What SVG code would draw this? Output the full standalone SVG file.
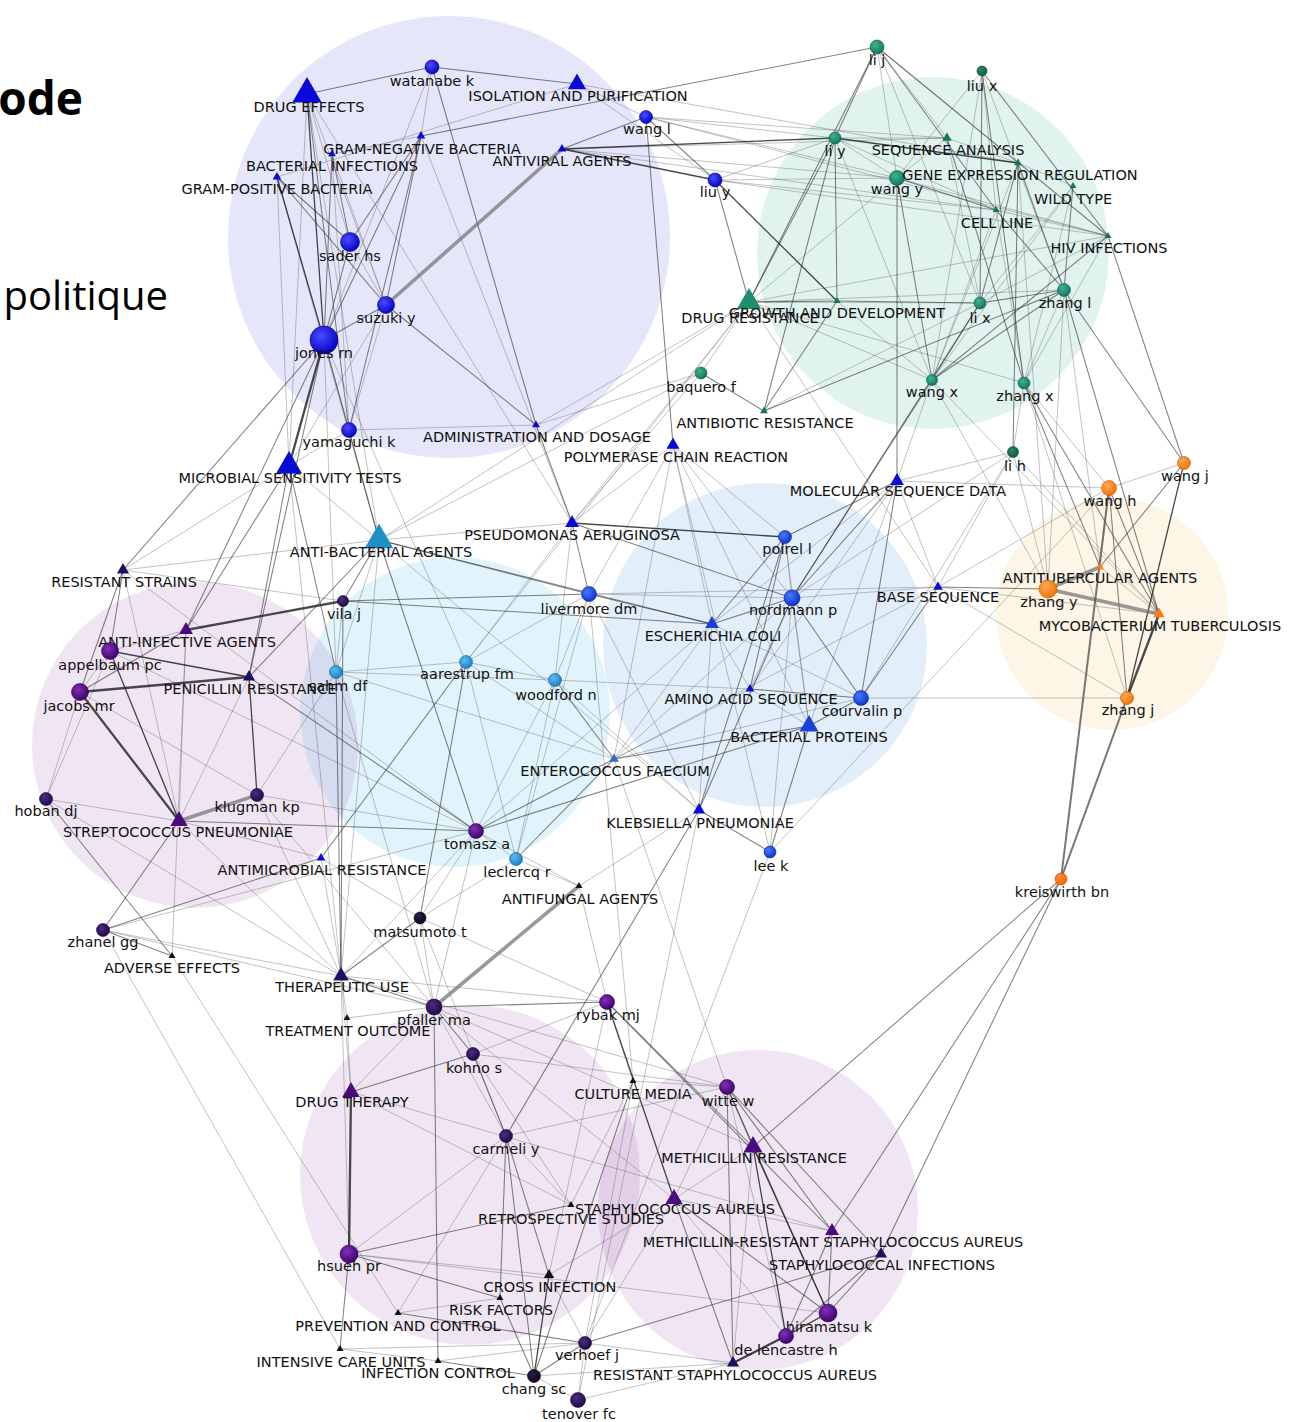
<svg xmlns="http://www.w3.org/2000/svg" width="1296" height="1422" viewBox="0 0 1296 1422">
<defs>
<radialGradient id="gB" cx="0.38" cy="0.35" r="0.7"><stop offset="0" stop-color="#4b4bff"/><stop offset="1" stop-color="#0000c2"/></radialGradient>
<radialGradient id="gB2" cx="0.38" cy="0.35" r="0.7"><stop offset="0" stop-color="#4a78ff"/><stop offset="1" stop-color="#0a2ed0"/></radialGradient>
<radialGradient id="gC" cx="0.38" cy="0.35" r="0.7"><stop offset="0" stop-color="#5cbcf0"/><stop offset="1" stop-color="#1a7cc4"/></radialGradient>
<radialGradient id="gT" cx="0.38" cy="0.35" r="0.7"><stop offset="0" stop-color="#3fb292"/><stop offset="1" stop-color="#0e765a"/></radialGradient>
<radialGradient id="gTd" cx="0.38" cy="0.35" r="0.7"><stop offset="0" stop-color="#2c8a64"/><stop offset="1" stop-color="#0a5a3c"/></radialGradient>
<radialGradient id="gO" cx="0.38" cy="0.35" r="0.7"><stop offset="0" stop-color="#ffab55"/><stop offset="1" stop-color="#f07000"/></radialGradient>
<radialGradient id="gO2" cx="0.38" cy="0.35" r="0.7"><stop offset="0" stop-color="#ff9040"/><stop offset="1" stop-color="#ff5e00"/></radialGradient>
<radialGradient id="gP" cx="0.38" cy="0.35" r="0.7"><stop offset="0" stop-color="#8030b4"/><stop offset="1" stop-color="#3c006c"/></radialGradient>
<radialGradient id="gPd" cx="0.38" cy="0.35" r="0.7"><stop offset="0" stop-color="#4e2c80"/><stop offset="1" stop-color="#1c0846"/></radialGradient>
<radialGradient id="gK" cx="0.38" cy="0.35" r="0.7"><stop offset="0" stop-color="#2e1c46"/><stop offset="1" stop-color="#0a0518"/></radialGradient>
<path id="tri" d="M0,-1L0.866,0.5L-0.866,0.5Z"/>
</defs>
<style>
.hlB{fill:#3a40d8;fill-opacity:.13}
.hlT{fill:#20a890;fill-opacity:.14}
.hlR{fill:#3a8ae0;fill-opacity:.15}
.hlC{fill:#30b0e0;fill-opacity:.14}
.hlO{fill:#f0b040;fill-opacity:.13}
.hlP{fill:#8a3aa0;fill-opacity:.13}
#edges path{fill:none}
.e1 path{stroke:#1a1a1a;stroke-opacity:.8;stroke-width:1.3}
.e2 path{stroke:#333;stroke-opacity:.62;stroke-width:1.05}
.e3 path{stroke:#555;stroke-opacity:.42;stroke-width:.85}
.e4 path{stroke:#777;stroke-opacity:.75;stroke-width:3.6}
.e5 path{stroke:#222;stroke-opacity:.82;stroke-width:2.3}
.e6 path{stroke:#555;stroke-opacity:.8;stroke-width:2}
text{font-family:"DejaVu Sans",Verdana,sans-serif;font-size:14.5px;fill:#111;text-anchor:middle}
text.hd{font-family:"Open Sans","Liberation Sans",sans-serif;fill:#000;text-anchor:end}
text.h1{font-size:46px;font-weight:bold}
text.h2{font-size:40px}
circle{stroke-width:.6}
.tB{fill:#0a0ad8}.tB2{fill:#1a40d8}.tT{fill:#1a9070}.tT2{fill:#0f7a55}.tO{fill:#ff7a10}
.tP{fill:#4a0a80}.tN{fill:#1e1060}.tK{fill:#111}
</style>

<!-- cluster halos -->
<g id="halos">
<circle class="hlB" cx="449" cy="237" r="221"/>
<circle class="hlT" cx="933" cy="253" r="176"/>
<circle class="hlR" cx="765" cy="645" r="162"/>
<circle class="hlC" cx="455" cy="712" r="155"/>
<circle class="hlO" cx="1112" cy="614" r="116"/>
<circle class="hlP" cx="195" cy="745" r="163"/>
<circle class="hlP" cx="470" cy="1175" r="170"/>
<circle class="hlP" cx="758" cy="1210" r="160"/>
</g>

<!-- slide title fragments -->
<text class="hd h1" x="83" y="115">ode</text>
<text class="hd h2" x="168" y="310">politique</text>

<g id="edges">
<g class="e3">
<path d="M432 67L421 136"/><path d="M432 67L324 340"/><path d="M307 94L350 242"/><path d="M307 94L386 305"/>
<path d="M307 94L289 466"/><path d="M307 94L379 540"/><path d="M277 177L289 466"/><path d="M277 177L379 540"/>
<path d="M277 177L577 84"/><path d="M332 154L386 305"/><path d="M332 154L349 430"/><path d="M421 136L332 154"/>
<path d="M350 242L386 305"/><path d="M324 340L379 540"/><path d="M386 305L349 430"/><path d="M386 305L289 466"/>
<path d="M349 430L289 466"/><path d="M349 430L536 425"/><path d="M562 149L897 178"/><path d="M562 149L947 138"/>
<path d="M562 149L996 210"/><path d="M577 84L646 117"/><path d="M577 84L715 180"/><path d="M577 84L1018 163"/>
<path d="M646 117L835 138"/><path d="M646 117L897 178"/><path d="M646 117L947 138"/><path d="M646 117L1108 236"/>
<path d="M715 180L835 138"/><path d="M715 180L897 178"/><path d="M715 180L996 210"/><path d="M715 180L1108 236"/>
<path d="M877 47L947 138"/><path d="M877 47L1018 163"/><path d="M877 47L897 178"/><path d="M877 47L980 303"/>
<path d="M982 71L996 210"/><path d="M982 71L897 178"/><path d="M982 71L1064 290"/><path d="M982 71L932 380"/>
<path d="M835 138L897 178"/><path d="M835 138L947 138"/><path d="M835 138L932 380"/><path d="M835 138L996 210"/>
<path d="M897 178L947 138"/><path d="M897 178L749 302"/><path d="M897 178L1108 236"/><path d="M947 138L980 303"/>
<path d="M947 138L1018 163"/><path d="M1018 163L932 380"/><path d="M1018 163L1048 589"/><path d="M1018 163L1073 186"/>
<path d="M1073 186L980 303"/><path d="M1073 186L932 380"/><path d="M1073 186L1024 383"/><path d="M996 210L932 380"/>
<path d="M996 210L1024 383"/><path d="M996 210L1108 236"/><path d="M1108 236L980 303"/><path d="M1108 236L1024 383"/>
<path d="M1108 236L749 302"/><path d="M1064 290L749 302"/><path d="M1064 290L1100 567"/><path d="M1064 290L1024 383"/>
<path d="M1064 290L1048 589"/><path d="M980 303L749 302"/><path d="M932 380L837 301"/><path d="M932 380L897 481"/>
<path d="M932 380L1048 589"/><path d="M932 380L1159 614"/><path d="M932 380L749 302"/><path d="M1024 383L1109 488"/>
<path d="M1024 383L1013 452"/><path d="M1024 383L1127 698"/><path d="M1024 383L749 302"/><path d="M701 373L749 302"/>
<path d="M701 373L572 523"/><path d="M701 373L536 425"/><path d="M701 373L379 540"/><path d="M764 411L980 303"/>
<path d="M749 302L536 425"/><path d="M749 302L572 523"/><path d="M749 302L466 662"/><path d="M749 302L379 540"/>
<path d="M749 302L938 587"/><path d="M673 445L572 523"/><path d="M673 445L589 594"/><path d="M673 445L785 537"/>
<path d="M673 445L792 598"/><path d="M673 445L712 624"/><path d="M673 445L614 759"/><path d="M673 445L770 852"/>
<path d="M673 445L809 726"/><path d="M572 523L379 540"/><path d="M572 523L421 136"/><path d="M572 523L307 94"/>
<path d="M572 523L555 680"/><path d="M572 523L466 662"/><path d="M589 594L466 662"/><path d="M589 594L555 680"/>
<path d="M589 594L792 598"/><path d="M589 594L516 859"/><path d="M712 624L861 698"/><path d="M712 624L476 831"/>
<path d="M712 624L614 759"/><path d="M712 624L699 810"/><path d="M785 537L792 598"/><path d="M785 537L809 726"/>
<path d="M792 598L938 587"/><path d="M792 598L750 689"/><path d="M792 598L809 726"/><path d="M792 598L614 759"/>
<path d="M792 598L770 852"/><path d="M897 481L938 587"/><path d="M897 481L1109 488"/><path d="M897 481L809 726"/>
<path d="M897 481L750 689"/><path d="M897 481L712 624"/><path d="M938 587L1127 698"/><path d="M938 587L1013 452"/>
<path d="M938 587L1159 614"/><path d="M938 587L589 594"/><path d="M938 587L1109 488"/><path d="M938 587L614 759"/>
<path d="M750 689L809 726"/><path d="M750 689L614 759"/><path d="M750 689L555 680"/><path d="M750 689L712 624"/>
<path d="M861 698L1127 698"/><path d="M861 698L614 759"/><path d="M861 698L1013 452"/><path d="M699 810L555 680"/>
<path d="M699 810L578 1400"/><path d="M699 810L589 594"/><path d="M699 810L579 886"/><path d="M770 852L585 1343"/>
<path d="M770 852L1109 488"/><path d="M614 759L466 662"/><path d="M614 759L727 1087"/><path d="M614 759L336 672"/>
<path d="M516 859L466 662"/><path d="M516 859L476 831"/><path d="M516 859L555 680"/><path d="M516 859L420 918"/>
<path d="M555 680L466 662"/><path d="M555 680L476 831"/><path d="M555 680L336 672"/><path d="M466 662L336 672"/>
<path d="M466 662L324 340"/><path d="M336 672L379 540"/><path d="M336 672L324 340"/><path d="M336 672L434 1007"/>
<path d="M379 540L699 810"/><path d="M379 540L123 570"/><path d="M379 540L289 466"/><path d="M379 540L341 976"/>
<path d="M289 466L123 570"/><path d="M289 466L341 976"/><path d="M123 570L343 601"/><path d="M123 570L179 821"/>
<path d="M123 570L476 831"/><path d="M186 630L110 651"/><path d="M186 630L179 821"/><path d="M186 630L172 956"/>
<path d="M343 601L336 672"/><path d="M110 651L80 692"/><path d="M110 651L46 799"/><path d="M110 651L476 831"/>
<path d="M80 692L46 799"/><path d="M80 692L257 795"/><path d="M249 677L179 821"/><path d="M46 799L179 821"/>
<path d="M46 799L341 976"/><path d="M257 795L476 831"/><path d="M257 795L336 672"/><path d="M257 795L434 1007"/>
<path d="M257 795L341 976"/><path d="M179 821L321 858"/><path d="M179 821L341 976"/><path d="M103 930L341 976"/>
<path d="M103 930L476 831"/><path d="M103 930L340 1349"/><path d="M103 930L434 1007"/><path d="M172 956L398 1313"/>
<path d="M321 858L341 976"/><path d="M321 858L420 918"/><path d="M476 831L420 918"/><path d="M476 831L341 976"/>
<path d="M476 831L434 1007"/><path d="M476 831L579 886"/><path d="M420 918L434 1007"/><path d="M420 918L607 1002"/>
<path d="M420 918L506 1136"/><path d="M579 886L516 859"/><path d="M579 886L607 1002"/><path d="M341 976L607 1002"/>
<path d="M341 976L347 1018"/><path d="M341 976L351 1092"/><path d="M341 976L349 1254"/><path d="M341 976L727 1087"/>
<path d="M434 1007L347 1018"/><path d="M434 1007L351 1092"/><path d="M434 1007L506 1136"/><path d="M434 1007L753 1147"/>
<path d="M434 1007L674 1199"/><path d="M473 1054L607 1002"/><path d="M473 1054L571 1205"/><path d="M473 1054L727 1087"/>
<path d="M607 1002L549 1275"/><path d="M607 1002L633 1081"/><path d="M351 1092L347 1018"/><path d="M351 1092L571 1205"/>
<path d="M351 1092L832 1231"/><path d="M633 1081L727 1087"/><path d="M633 1081L585 1343"/><path d="M633 1081L589 594"/>
<path d="M633 1081L571 1205"/><path d="M727 1087L786 1336"/><path d="M727 1087L506 1136"/><path d="M727 1087L674 1199"/>
<path d="M506 1136L571 1205"/><path d="M506 1136L349 1254"/><path d="M753 1147L674 1199"/><path d="M753 1147L733 1363"/>
<path d="M674 1199L832 1231"/><path d="M674 1199L786 1336"/><path d="M674 1199L585 1343"/><path d="M674 1199L549 1275"/>
<path d="M349 1254L549 1275"/><path d="M349 1254L828 1313"/><path d="M549 1275L585 1343"/><path d="M500 1298L398 1313"/>
<path d="M398 1313L506 1136"/><path d="M340 1349L438 1361"/><path d="M340 1349L585 1343"/><path d="M438 1361L585 1343"/>
<path d="M534 1376L578 1400"/><path d="M534 1376L733 1363"/><path d="M585 1343L578 1400"/><path d="M585 1343L733 1363"/>
<path d="M733 1363L828 1313"/><path d="M578 1400L733 1363"/><path d="M1184 463L1109 488"/><path d="M1109 488L1100 567"/>
<path d="M1100 567L1159 614"/><path d="M1048 589L1013 452"/><path d="M1159 614L1013 452"/><path d="M1013 452L897 481"/>
<path d="M1013 452L792 598"/>
</g>
<g class="e2">
<path d="M307 94L432 67"/><path d="M432 67L577 84"/><path d="M432 67L536 425"/><path d="M421 136L877 47"/>
<path d="M307 94L349 430"/><path d="M277 177L350 242"/><path d="M277 177L386 305"/><path d="M332 154L324 340"/>
<path d="M332 154L350 242"/><path d="M421 136L324 340"/><path d="M421 136L350 242"/><path d="M421 136L386 305"/>
<path d="M421 136L349 430"/><path d="M350 242L324 340"/><path d="M386 305L324 340"/><path d="M324 340L349 430"/>
<path d="M324 340L123 570"/><path d="M324 340L186 630"/><path d="M324 340L249 677"/><path d="M386 305L536 425"/>
<path d="M349 430L379 540"/><path d="M562 149L646 117"/><path d="M646 117L715 180"/><path d="M646 117L673 445"/>
<path d="M715 180L749 302"/><path d="M877 47L835 138"/><path d="M877 47L749 302"/><path d="M877 47L996 210"/>
<path d="M877 47L1108 236"/><path d="M982 71L980 303"/><path d="M982 71L1024 383"/><path d="M982 71L1108 236"/>
<path d="M835 138L749 302"/><path d="M835 138L837 301"/><path d="M835 138L764 411"/><path d="M897 178L932 380"/>
<path d="M897 178L897 481"/><path d="M897 178L996 210"/><path d="M947 138L1024 383"/><path d="M1018 163L980 303"/>
<path d="M1018 163L1064 290"/><path d="M1018 163L1013 452"/><path d="M1073 186L1064 290"/><path d="M996 210L1064 290"/>
<path d="M1108 236L1184 463"/><path d="M1108 236L932 380"/><path d="M1064 290L980 303"/><path d="M1064 290L932 380"/>
<path d="M1064 290L1159 614"/><path d="M1064 290L1184 463"/><path d="M980 303L837 301"/><path d="M980 303L932 380"/>
<path d="M1024 383L1100 567"/><path d="M701 373L764 411"/><path d="M764 411L1064 290"/><path d="M749 302L837 301"/>
<path d="M837 301L764 411"/><path d="M572 523L792 598"/><path d="M572 523L589 594"/><path d="M572 523L536 425"/>
<path d="M589 594L712 624"/><path d="M589 594L379 540"/><path d="M712 624L792 598"/><path d="M712 624L785 537"/>
<path d="M712 624L379 540"/><path d="M785 537L897 481"/><path d="M785 537L750 689"/><path d="M785 537L699 810"/>
<path d="M792 598L897 481"/><path d="M792 598L861 698"/><path d="M792 598L980 303"/><path d="M792 598L932 380"/>
<path d="M897 481L861 698"/><path d="M938 587L1048 589"/><path d="M938 587L861 698"/><path d="M750 689L861 698"/>
<path d="M861 698L809 726"/><path d="M809 726L614 759"/><path d="M809 726L476 831"/><path d="M809 726L770 852"/>
<path d="M699 810L770 852"/><path d="M699 810L792 598"/><path d="M699 810L506 1136"/><path d="M614 759L476 831"/>
<path d="M614 759L516 859"/><path d="M614 759L555 680"/><path d="M466 662L420 918"/><path d="M466 662L321 858"/>
<path d="M336 672L341 976"/><path d="M379 540L249 677"/><path d="M379 540L476 831"/><path d="M379 540L343 601"/>
<path d="M289 466L186 630"/><path d="M289 466L336 672"/><path d="M289 466L249 677"/><path d="M123 570L110 651"/>
<path d="M123 570L80 692"/><path d="M186 630L80 692"/><path d="M343 601L589 594"/><path d="M343 601L712 624"/>
<path d="M343 601L341 976"/><path d="M249 677L476 831"/><path d="M46 799L172 956"/><path d="M179 821L103 930"/>
<path d="M179 821L476 831"/><path d="M103 930L321 858"/><path d="M103 930L172 956"/><path d="M420 918L341 976"/>
<path d="M341 976L434 1007"/><path d="M434 1007L473 1054"/><path d="M434 1007L607 1002"/><path d="M434 1007L438 1361"/>
<path d="M473 1054L506 1136"/><path d="M473 1054L351 1092"/><path d="M607 1002L753 1147"/><path d="M607 1002L832 1231"/>
<path d="M633 1081L534 1376"/><path d="M727 1087L753 1147"/><path d="M727 1087L832 1231"/><path d="M727 1087L881 1254"/>
<path d="M727 1087L733 1363"/><path d="M727 1087L828 1313"/><path d="M506 1136L549 1275"/><path d="M506 1136L500 1298"/>
<path d="M506 1136L534 1376"/><path d="M753 1147L1061 879"/><path d="M674 1199L828 1313"/><path d="M674 1199L733 1363"/>
<path d="M832 1231L1061 879"/><path d="M832 1231L828 1313"/><path d="M832 1231L786 1336"/><path d="M881 1254L1061 879"/>
<path d="M881 1254L828 1313"/><path d="M881 1254L786 1336"/><path d="M881 1254L585 1343"/><path d="M349 1254L571 1205"/>
<path d="M349 1254L500 1298"/><path d="M349 1254L340 1349"/><path d="M534 1376L585 1343"/><path d="M500 1298L534 1376"/>
<path d="M398 1313L585 1343"/><path d="M438 1361L534 1376"/><path d="M1184 463L1100 567"/><path d="M1109 488L1159 614"/>
<path d="M1109 488L1127 698"/><path d="M1159 614L1024 383"/>
</g>
<g class="e1">
<path d="M307 94L324 340"/><path d="M277 177L324 340"/><path d="M562 149L715 180"/><path d="M562 149L835 138"/>
<path d="M715 180L837 301"/><path d="M835 138L1018 163"/><path d="M572 523L785 537"/><path d="M110 651L249 677"/>
<path d="M110 651L179 821"/><path d="M249 677L257 795"/><path d="M607 1002L674 1199"/><path d="M753 1147L828 1313"/>
<path d="M753 1147L786 1336"/><path d="M549 1275L534 1376"/><path d="M786 1336L828 1313"/><path d="M1184 463L1127 698"/>
</g>
<g class="e5">
<path d="M324 340L289 466"/><path d="M186 630L343 601"/><path d="M80 692L249 677"/><path d="M80 692L179 821"/>
<path d="M1159 614L1127 698"/><path d="M786 1336L733 1363"/><path d="M351 1092L349 1254"/>
</g>
<g class="e4">
<path d="M386 305L562 149"/><path d="M434 1007L579 886"/><path d="M1048 589L1159 614"/><path d="M257 795L179 821"/>
<path d="M1100 567L1048 589"/>
</g>
<g class="e6">
<path d="M1127 698L1061 879"/><path d="M1109 488L1061 879"/>
</g>
</g>

<g id="nodes">
<!-- blue cluster -->
<g id="n-watanabe-k"><circle cx="432" cy="67" r="7" fill="url(#gB)" stroke="#00008a"/><text x="432" y="86">watanabe k</text></g>
<g id="n-drug-effects"><use href="#tri" class="tB" transform="translate(307 94) scale(17)"/><text x="309" y="112">DRUG EFFECTS</text></g>
<g id="n-isolation"><use href="#tri" class="tB" transform="translate(577 84) scale(10.5)"/><text x="578" y="101">ISOLATION AND PURIFICATION</text></g>
<g id="n-wang-l"><circle cx="646" cy="117" r="6.5" fill="url(#gB)" stroke="#00008a"/><text x="647" y="134">wang l</text></g>
<g id="n-gram-negative"><use href="#tri" class="tB" transform="translate(421 136) scale(5)"/><text x="422" y="154">GRAM-NEGATIVE BACTERIA</text></g>
<g id="n-bacterial-infections"><use href="#tri" class="tB" transform="translate(332 154) scale(4.5)"/><text x="332" y="171">BACTERIAL INFECTIONS</text></g>
<g id="n-gram-positive"><use href="#tri" class="tB" transform="translate(277 177) scale(5)"/><text x="277" y="194">GRAM-POSITIVE BACTERIA</text></g>
<g id="n-antiviral"><use href="#tri" class="tB" transform="translate(562 149) scale(5)"/><text x="562" y="166">ANTIVIRAL AGENTS</text></g>
<g id="n-liu-y"><circle cx="715" cy="180" r="7" fill="url(#gB)" stroke="#00008a"/><text x="715" y="197">liu y</text></g>
<g id="n-sader-hs"><circle cx="350" cy="242" r="9.5" fill="url(#gB)" stroke="#00008a"/><text x="350" y="261">sader hs</text></g>
<g id="n-suzuki-y"><circle cx="386" cy="305" r="8.5" fill="url(#gB)" stroke="#00008a"/><text x="386" y="323">suzuki y</text></g>
<g id="n-jones-rn"><circle cx="324" cy="340" r="14" fill="url(#gB)" stroke="#00008a"/><text x="324" y="358">jones rn</text></g>
<g id="n-yamaguchi-k"><circle cx="349" cy="430" r="7.5" fill="url(#gB)" stroke="#00008a"/><text x="349" y="447">yamaguchi k</text></g>
<g id="n-microbial-sensitivity"><use href="#tri" class="tB" transform="translate(289 466) scale(15)"/><text x="290" y="483">MICROBIAL SENSITIVITY TESTS</text></g>
<g id="n-administration"><use href="#tri" class="tB" transform="translate(536 425) scale(4.5)"/><text x="537" y="442">ADMINISTRATION AND DOSAGE</text></g>
<g id="n-pcr"><use href="#tri" class="tB" transform="translate(673 445) scale(7.5)"/><text x="676" y="462">POLYMERASE CHAIN REACTION</text></g>
<g id="n-pseudomonas"><use href="#tri" class="tB" transform="translate(572 523) scale(8)"/><text x="572" y="540">PSEUDOMONAS AERUGINOSA</text></g>
<g id="n-livermore-dm"><circle cx="589" cy="594" r="7.5" fill="url(#gB2)" stroke="#0a208a"/><text x="589" y="614">livermore dm</text></g>
<g id="n-poirel-l"><circle cx="785" cy="537" r="6.5" fill="url(#gB2)" stroke="#0a208a"/><text x="787" y="554">poirel l</text></g>
<g id="n-nordmann-p"><circle cx="792" cy="598" r="8" fill="url(#gB2)" stroke="#0a208a"/><text x="793" y="615">nordmann p</text></g>
<g id="n-escherichia"><use href="#tri" class="tB2" transform="translate(712 624) scale(8)"/><text x="713" y="641">ESCHERICHIA COLI</text></g>
<g id="n-molecular-sequence"><use href="#tri" class="tB" transform="translate(897 481) scale(8)"/><text x="898" y="496">MOLECULAR SEQUENCE DATA</text></g>
<g id="n-base-sequence"><use href="#tri" class="tB" transform="translate(938 587) scale(5.5)"/><text x="938" y="602">BASE SEQUENCE</text></g>
<g id="n-amino-acid"><use href="#tri" class="tB" transform="translate(750 689) scale(5)"/><text x="751" y="704">AMINO ACID SEQUENCE</text></g>
<g id="n-courvalin-p"><circle cx="861" cy="698" r="7.5" fill="url(#gB2)" stroke="#0a208a"/><text x="862" y="716">courvalin p</text></g>
<g id="n-bacterial-proteins"><use href="#tri" class="tB2" transform="translate(809 726) scale(11)"/><text x="809" y="742">BACTERIAL PROTEINS</text></g>
<g id="n-klebsiella"><use href="#tri" class="tB" transform="translate(699 810) scale(7)"/><text x="700" y="828">KLEBSIELLA PNEUMONIAE</text></g>
<g id="n-lee-k"><circle cx="770" cy="852" r="6" fill="url(#gB2)" stroke="#0a208a"/><text x="771" y="871">lee k</text></g>
<g id="n-antimicrobial-resistance"><use href="#tri" class="tB" transform="translate(321 858) scale(5)"/><text x="322" y="875">ANTIMICROBIAL RESISTANCE</text></g>

<!-- light blue cluster -->
<g id="n-anti-bacterial"><use href="#tri" fill="#1e90c8" transform="translate(379 540) scale(16.5)"/><text x="381" y="557">ANTI-BACTERIAL AGENTS</text></g>
<g id="n-sahm-df"><circle cx="336" cy="672" r="6.5" fill="url(#gC)" stroke="#12609a"/><text x="338" y="691">sahm df</text></g>
<g id="n-aarestrup-fm"><circle cx="466" cy="662" r="6.5" fill="url(#gC)" stroke="#12609a"/><text x="467" y="679">aarestrup fm</text></g>
<g id="n-woodford-n"><circle cx="555" cy="680" r="6.5" fill="url(#gC)" stroke="#12609a"/><text x="556" y="700">woodford n</text></g>
<g id="n-enterococcus"><use href="#tri" fill="#2a6ec8" transform="translate(614 759) scale(5.5)"/><text x="615" y="776">ENTEROCOCCUS FAECIUM</text></g>
<g id="n-leclercq-r"><circle cx="516" cy="859" r="6.5" fill="url(#gC)" stroke="#12609a"/><text x="517" y="877">leclercq r</text></g>

<!-- teal cluster -->
<g id="n-li-j"><circle cx="877" cy="47" r="7" fill="url(#gT)" stroke="#0a5a44"/><text x="877" y="65">li j</text></g>
<g id="n-liu-x"><circle cx="982" cy="71" r="5" fill="url(#gTd)" stroke="#08482e"/><text x="982" y="91">liu x</text></g>
<g id="n-li-y"><circle cx="835" cy="138" r="6" fill="url(#gT)" stroke="#0a5a44"/><text x="835" y="156">li y</text></g>
<g id="n-sequence-analysis"><use href="#tri" class="tT2" transform="translate(947 138) scale(5.5)"/><text x="948" y="155">SEQUENCE ANALYSIS</text></g>
<g id="n-wang-y"><circle cx="897" cy="178" r="7.5" fill="url(#gT)" stroke="#0a5a44"/><text x="897" y="194">wang y</text></g>
<g id="n-gene-expression"><use href="#tri" class="tT2" transform="translate(1018 163) scale(4.5)"/><text x="1020" y="180">GENE EXPRESSION REGULATION</text></g>
<g id="n-wild-type"><use href="#tri" class="tT2" transform="translate(1073 186) scale(4)"/><text x="1073" y="204">WILD TYPE</text></g>
<g id="n-cell-line"><use href="#tri" class="tT2" transform="translate(996 210) scale(4)"/><text x="997" y="228">CELL LINE</text></g>
<g id="n-hiv-infections"><use href="#tri" class="tT2" transform="translate(1108 236) scale(4)"/><text x="1109" y="253">HIV INFECTIONS</text></g>
<g id="n-drug-resistance"><use href="#tri" class="tT" transform="translate(749 302) scale(14)"/><text x="750" y="323">DRUG RESISTANCE</text></g>
<g id="n-growth-development"><use href="#tri" class="tT2" transform="translate(837 301) scale(4)"/><text x="837" y="318">GROWTH AND DEVELOPMENT</text></g>
<g id="n-li-x"><circle cx="980" cy="303" r="6" fill="url(#gT)" stroke="#0a5a44"/><text x="980" y="323">li x</text></g>
<g id="n-zhang-l"><circle cx="1064" cy="290" r="6.5" fill="url(#gT)" stroke="#0a5a44"/><text x="1065" y="308">zhang l</text></g>
<g id="n-wang-x"><circle cx="932" cy="380" r="5.5" fill="url(#gT)" stroke="#0a5a44"/><text x="932" y="397">wang x</text></g>
<g id="n-zhang-x"><circle cx="1024" cy="383" r="6" fill="url(#gT)" stroke="#0a5a44"/><text x="1025" y="401">zhang x</text></g>
<g id="n-baquero-f"><circle cx="701" cy="373" r="6" fill="url(#gT)" stroke="#0a5a44"/><text x="701" y="392">baquero f</text></g>
<g id="n-antibiotic-resistance"><use href="#tri" class="tT2" transform="translate(764 411) scale(4.5)"/><text x="765" y="428">ANTIBIOTIC RESISTANCE</text></g>
<g id="n-li-h"><circle cx="1013" cy="452" r="5.5" fill="url(#gTd)" stroke="#08482e"/><text x="1015" y="471">li h</text></g>

<!-- orange cluster -->
<g id="n-wang-j"><circle cx="1184" cy="463" r="6.5" fill="url(#gO)" stroke="#c05800"/><text x="1185" y="481">wang j</text></g>
<g id="n-wang-h"><circle cx="1109" cy="488" r="7.5" fill="url(#gO)" stroke="#c05800"/><text x="1110" y="506">wang h</text></g>
<g id="n-antitubercular"><use href="#tri" class="tO" transform="translate(1100 567) scale(4.5)"/><text x="1100" y="583">ANTITUBERCULAR AGENTS</text></g>
<g id="n-zhang-y"><circle cx="1048" cy="589" r="9" fill="url(#gO)" stroke="#c05800"/><text x="1049" y="607">zhang y</text></g>
<g id="n-mycobacterium"><use href="#tri" class="tO" transform="translate(1159 614) scale(6.5)"/><text x="1160" y="631">MYCOBACTERIUM TUBERCULOSIS</text></g>
<g id="n-zhang-j"><circle cx="1127" cy="698" r="6.5" fill="url(#gO)" stroke="#c05800"/><text x="1128" y="715">zhang j</text></g>
<g id="n-kreiswirth-bn"><circle cx="1061" cy="879" r="6" fill="url(#gO2)" stroke="#c04800"/><text x="1062" y="897">kreiswirth bn</text></g>

<!-- purple clusters -->
<g id="n-resistant-strains"><use href="#tri" class="tN" transform="translate(123 570) scale(7)"/><text x="124" y="587">RESISTANT STRAINS</text></g>
<g id="n-anti-infective"><use href="#tri" class="tP" transform="translate(186 630) scale(8)"/><text x="187" y="647">ANTI-INFECTIVE AGENTS</text></g>
<g id="n-vila-j"><circle cx="343" cy="601" r="5.5" fill="url(#gPd)" stroke="#120430"/><text x="344" y="619">vila j</text></g>
<g id="n-appelbaum-pc"><circle cx="110" cy="651" r="8.5" fill="url(#gP)" stroke="#2a0050"/><text x="110" y="670">appelbaum pc</text></g>
<g id="n-jacobs-mr"><circle cx="80" cy="692" r="8.5" fill="url(#gP)" stroke="#2a0050"/><text x="79" y="711">jacobs mr</text></g>
<g id="n-penicillin-resistance"><use href="#tri" class="tN" transform="translate(249 677) scale(7)"/><text x="250" y="694">PENICILLIN RESISTANCE</text></g>
<g id="n-hoban-dj"><circle cx="46" cy="799" r="6.5" fill="url(#gPd)" stroke="#120430"/><text x="46" y="816">hoban dj</text></g>
<g id="n-klugman-kp"><circle cx="257" cy="795" r="6.5" fill="url(#gPd)" stroke="#120430"/><text x="257" y="812">klugman kp</text></g>
<g id="n-streptococcus"><use href="#tri" class="tP" transform="translate(179 821) scale(10)"/><text x="178" y="837">STREPTOCOCCUS PNEUMONIAE</text></g>
<g id="n-tomasz-a"><circle cx="476" cy="831" r="7.5" fill="url(#gP)" stroke="#2a0050"/><text x="477" y="849">tomasz a</text></g>
<g id="n-zhanel-gg"><circle cx="103" cy="930" r="6.5" fill="url(#gPd)" stroke="#120430"/><text x="103" y="947">zhanel gg</text></g>
<g id="n-adverse-effects"><use href="#tri" class="tK" transform="translate(172 956) scale(4)"/><text x="172" y="973">ADVERSE EFFECTS</text></g>
<g id="n-matsumoto-t"><circle cx="420" cy="918" r="6" fill="url(#gK)" stroke="#05020c"/><text x="420" y="937">matsumoto t</text></g>
<g id="n-antifungal"><use href="#tri" class="tK" transform="translate(579 886) scale(4)"/><text x="580" y="904">ANTIFUNGAL AGENTS</text></g>
<g id="n-therapeutic-use"><use href="#tri" class="tN" transform="translate(341 976) scale(9)"/><text x="342" y="992">THERAPEUTIC USE</text></g>
<g id="n-treatment-outcome"><use href="#tri" class="tK" transform="translate(347 1018) scale(4)"/><text x="348" y="1036">TREATMENT OUTCOME</text></g>
<g id="n-pfaller-ma"><circle cx="434" cy="1007" r="8" fill="url(#gPd)" stroke="#120430"/><text x="434" y="1025">pfaller ma</text></g>
<g id="n-kohno-s"><circle cx="473" cy="1054" r="6.5" fill="url(#gPd)" stroke="#120430"/><text x="474" y="1073">kohno s</text></g>
<g id="n-rybak-mj"><circle cx="607" cy="1002" r="7.5" fill="url(#gP)" stroke="#2a0050"/><text x="608" y="1020">rybak mj</text></g>
<g id="n-drug-therapy"><use href="#tri" class="tP" transform="translate(351 1092) scale(10)"/><text x="352" y="1107">DRUG THERAPY</text></g>
<g id="n-culture-media"><use href="#tri" class="tK" transform="translate(633 1081) scale(4)"/><text x="633" y="1099">CULTURE MEDIA</text></g>
<g id="n-witte-w"><circle cx="727" cy="1087" r="7.5" fill="url(#gP)" stroke="#2a0050"/><text x="728" y="1106">witte w</text></g>
<g id="n-carmeli-y"><circle cx="506" cy="1136" r="6.5" fill="url(#gPd)" stroke="#120430"/><text x="506" y="1154">carmeli y</text></g>
<g id="n-methicillin-resistance"><use href="#tri" class="tP" transform="translate(753 1147) scale(11)"/><text x="754" y="1163">METHICILLIN RESISTANCE</text></g>
<g id="n-staphylococcus-aureus"><use href="#tri" class="tP" transform="translate(674 1199) scale(10)"/><text x="675" y="1214">STAPHYLOCOCCUS AUREUS</text></g>
<g id="n-retrospective"><use href="#tri" class="tK" transform="translate(571 1205) scale(4)"/><text x="571" y="1224">RETROSPECTIVE STUDIES</text></g>
<g id="n-mrsa"><use href="#tri" class="tP" transform="translate(832 1231) scale(8)"/><text x="833" y="1247">METHICILLIN-RESISTANT STAPHYLOCOCCUS AUREUS</text></g>
<g id="n-staphylococcal-infections"><use href="#tri" class="tN" transform="translate(881 1254) scale(7)"/><text x="882" y="1270">STAPHYLOCOCCAL INFECTIONS</text></g>
<g id="n-hsueh-pr"><circle cx="349" cy="1254" r="9" fill="url(#gP)" stroke="#2a0050"/><text x="349" y="1271">hsueh pr</text></g>
<g id="n-cross-infection"><use href="#tri" class="tK" transform="translate(549 1275) scale(6)"/><text x="550" y="1292">CROSS INFECTION</text></g>
<g id="n-risk-factors"><use href="#tri" class="tK" transform="translate(500 1298) scale(4)"/><text x="501" y="1315">RISK FACTORS</text></g>
<g id="n-prevention-control"><use href="#tri" class="tK" transform="translate(398 1313) scale(4)"/><text x="398" y="1331">PREVENTION AND CONTROL</text></g>
<g id="n-hiramatsu-k"><circle cx="828" cy="1313" r="9" fill="url(#gP)" stroke="#2a0050"/><text x="829" y="1332">hiramatsu k</text></g>
<g id="n-de-lencastre-h"><circle cx="786" cy="1336" r="7.5" fill="url(#gP)" stroke="#2a0050"/><text x="786" y="1355">de lencastre h</text></g>
<g id="n-verhoef-j"><circle cx="585" cy="1343" r="6.5" fill="url(#gPd)" stroke="#120430"/><text x="587" y="1360">verhoef j</text></g>
<g id="n-intensive-care"><use href="#tri" class="tK" transform="translate(340 1349) scale(4)"/><text x="341" y="1367">INTENSIVE CARE UNITS</text></g>
<g id="n-infection-control"><use href="#tri" class="tK" transform="translate(438 1361) scale(4)"/><text x="438" y="1378">INFECTION CONTROL</text></g>
<g id="n-chang-sc"><circle cx="534" cy="1376" r="6.5" fill="url(#gK)" stroke="#05020c"/><text x="534" y="1394">chang sc</text></g>
<g id="n-resistant-staph"><use href="#tri" class="tN" transform="translate(733 1363) scale(7)"/><text x="735" y="1380">RESISTANT STAPHYLOCOCCUS AUREUS</text></g>
<g id="n-tenover-fc"><circle cx="578" cy="1400" r="7.5" fill="url(#gPd)" stroke="#120430"/><text x="579" y="1419">tenover fc</text></g>
</g>
</svg>
